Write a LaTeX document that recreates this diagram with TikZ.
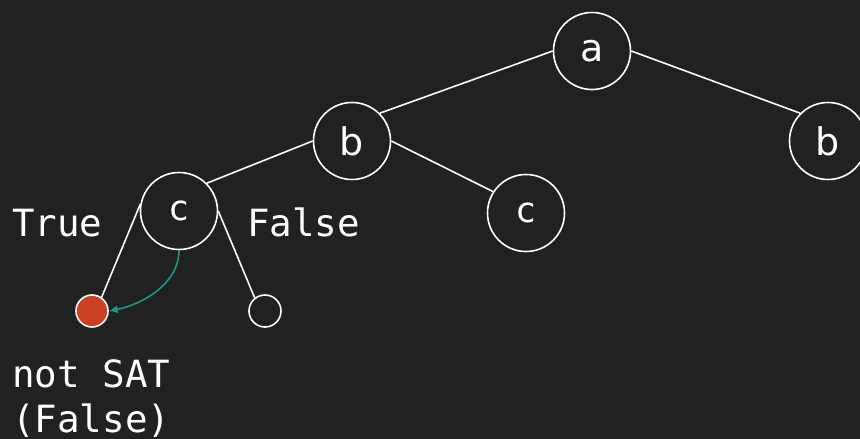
\documentclass[tikz,border=0pt]{standalone}
\usepackage{fontspec}
\setmainfont{DejaVu Sans}
\newfontfamily\monofont{DejaVu Sans Mono}
\usetikzlibrary{arrows.meta}
\definecolor{bg}{HTML}{212121}
\definecolor{nogood}{HTML}{CC4125}
\definecolor{backarrow}{HTML}{159B87}
\tikzset{
  x=1pt, y=-1pt,
  var/.style={circle, draw=white, line width=1.6pt, minimum size=77pt, inner sep=0pt,
              text=white, font=\fontsize{38}{38}\selectfont},
  monovar/.style={var, font=\monofont\fontsize{35}{35}\selectfont},
  leaf/.style={circle, draw=white, line width=1.6pt, minimum size=32pt, inner sep=0pt},
  edge/.style={draw=white, line width=1.6pt},
  lbl/.style={anchor=base west, inner sep=0pt, text=white, font=\monofont\fontsize{37.5}{45}\selectfont},
}
\begin{document}
\begin{tikzpicture}
  \fill[bg] (0,0) rectangle (860,439);
  \useasboundingbox (0,0) rectangle (860,439);

  % decision tree over the variables a, b, c
  \node[var] (a) at (592,51) {a};
  \node[var] (b1) at (352,141) {b};
  \node[var] (b2) at (828,141) {b};
  \node[monovar] (c1) at (179,211) {c};
  \node[monovar] (c2) at (526,213) {c};
  \node[leaf, fill=nogood] (t) at (92,311) {};
  \node[leaf] (f) at (265,311) {};

  \draw[edge] (a.west) -- (b1.north east);
  \draw[edge] (a.east) -- (b2.north west);
  \draw[edge] (b1.west) -- (c1.north east);
  \draw[edge] (b1.east) -- (c2.147);
  \draw[edge] (c1.170) -- (t.55);
  \draw[edge] (c1.east) -- (f.128);

  % backtrack from the failed assignment
  \draw[draw=backarrow, line width=1.6pt, -{Latex[length=9pt,width=8pt]}]
    (c1.south) .. controls (179,285) and (140,305) .. (t.east);

  % branch labels and outcome
  \node[lbl] (ltrue) at (12,236) {True};
  \node[lbl] (lfalse) at (247,236) {False};
  \node[lbl] (lnot) at (12,387) {not SAT};
  \node[lbl] (lpar) at (12,432) {(False)};
\end{tikzpicture}
\end{document}
